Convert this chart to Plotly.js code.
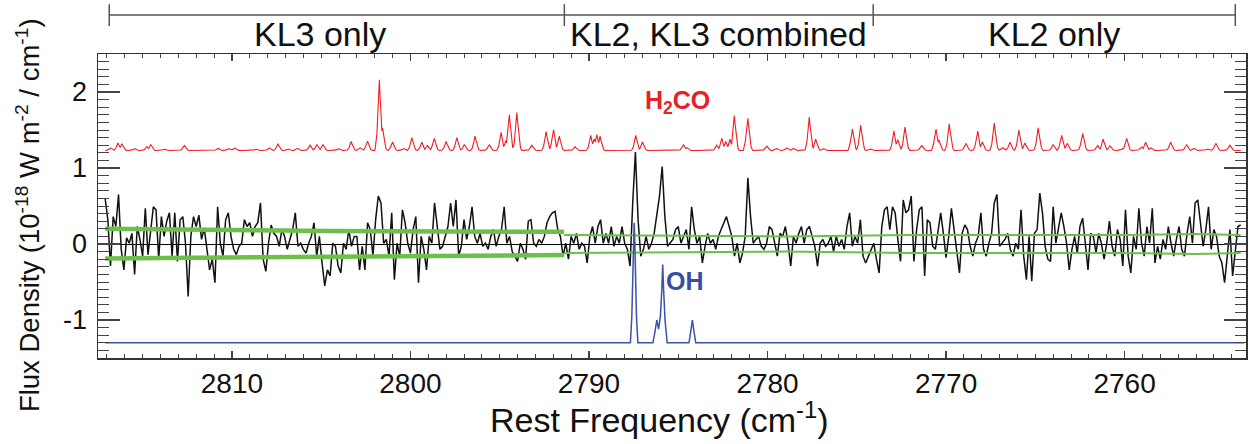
<!DOCTYPE html>
<html>
<head>
<meta charset="utf-8">
<script src="https://cdn.plot.ly/plotly-3.0.1.min.js"></script>
<style>html,body{margin:0;padding:0;background:#fff;}#chart{width:1249px;height:444px;}</style>
</head>
<body>
<div id="chart"></div>
<script>
// ---- observed spectrum (black), uniform grid in rest frequency ----
const obsStart = 2817.1;
const obsStep = 0.15;
const obsFlux = [
0.6, 0.32, -0.29, 0.36, 0.23, 0.65, -0.07, -0.34, 0.08, 0.01,
0.14, -0.40, 0.23, 0.06, -0.16, 0.47, -0.14, 0.19, 0.49, 0.45,
-0.2, 0.36, 0.1, 0.3, 0.41, -0.16, 0.41, -0.23, 0.32, 0.36,
0.01, -0.69, 0.1, 0.36, 0.23, 0.38, 0.06, 0.21, -0.07, -0.34,
-0.2, -0.51, 0.49, 0.01, -0.16, 0.32, 0.41, 0.1, -0.07, -0.14,
-0.03, 0.01, 0.32, 0.23, 0.28, 0.1, 0.23, 0.28, 0.54, -0.2,
-0.36, 0.01, 0.25, 0.14, 0.1, -0.03, 0.19, 0.1, -0.07, 0.06,
0.19, 0.41, -0.03, 0.01, -0.07, -0.12, 0.01, 0.1, 0.28, -0.16,
0.1, -0.25, -0.55, -0.34, -0.42,
0.01, -0.03, -0.29, -0.38, 0.01, -0.07, 0.19, -0.03, 0.1, 0.1,
-0.34, -0.03, -0.34, 0.28, 0.19, -0.16, 0.32, 0.63, 0.54, 0.01,
0.06, -0.16, 0.41, -0.47, 0.01, -0.16, 0.45, 0.28, 0.01, -0.12,
0.19, 0.36, -0.51, 0.1, -0.07, -0.34, 0.1, 0.01, 0.54, 0.23,
-0.07, -0.03, 0.1, 0.23, 0.54, 0.23, 0.58, -0.16, -0.03, 0.32,
0.06, 0.23, 0.49, 0.1, 0.01, 0.14, -0.03, 0.01, -0.07, 0.1,
0.19, -0.03, 0.1, 0.19, 0.49, 0.01, 0.1, -0.1, -0.16, -0.23,
0.01, -0.07, -0.2, 0.3, 0.32, 0.01, -0.03, 0.06, 0.01, 0.1,
0.28, 0.36, 0.41, 0.43, 0.19,
0.1, -0.16, 0.01, -0.2, 0.1, 0.01, 0.14, -0.07, 0.01, -0.03,
-0.25, 0.1, 0.23, 0.01, 0.23, 0.32, 0.01, 0.14, 0.01, 0.23,
-0.03, 0.1, 0.01, 0.23, 0.01, -0.07, -0.29, 0.54, 1.21, 0.32,
-0.16, -0.07, 0.1, -0.07, 0.01, 0.14, 0.36, 0.63, 1.02, 0.36,
-0.03, 0.01, 0.06, 0.19, 0.23, 0.01, 0.1, 0.19, -0.07, 0.49,
0.19, 0.01, 0.1, -0.25, -0.03, 0.14, 0.01, 0.06, -0.07, 0.1,
0.19, 0.28, 0.36, 0.23, 0.1, -0.16, 0.01, -0.25, -0.12, 0.1,
0.87, 0.36, 0.01, 0.06, 0.1, -0.03, -0.07, 0.01, 0.23, 0.19,
0.01, -0.16, 0.14, 0.1, 0.23, 0.01,
-0.29, 0.1, 0.01, 0.14, 0.23, 0.01, 0.19, 0.23, 0.1, -0.03,
-0.29, 0.01, 0.06, -0.03, 0.01, 0.1, -0.1, 0.1, -0.03, 0.06,
-0.07, 0.23, 0.41, -0.03, 0.1, 0.01, 0.32, -0.16, -0.25, -0.16,
-0.07, 0.01, -0.2, -0.38, 0.23, 0.45, 0.49, 0.19, 0.49, 0.41,
0.06, -0.23, 0.58, 0.41, 0.45, 0.63, -0.23, 0.19, 0.45, 0.49,
-0.42, 0.32, 0.28, -0.03, -0.07, 0.19, 0.41, 0.14, -0.18, 0.1,
0.47, 0.19, -0.07, -0.38, 0.14, 0.25, 0.19, -0.03, -0.16, 0.01,
0.1, 0.41, -0.07, -0.16, 0.01, 0.14, 0.54, 0.65, -0.03, 0.01,
0.06, 0.14, -0.07, -0.16, 0.01,
-0.07, 0.45, -0.16, -0.47, 0.1, -0.49, 0.14, 0.19, 0.67, 0.41,
-0.03, -0.2, -0.23, 0.49, 0.01, 0.23, 0.41, 0.23, 0.01, -0.34,
-0.07, 0.1, -0.12, 0.23, 0.34, 0.01, -0.34, 0.14, 0.1, -0.12,
0.14, 0.01, -0.2, 0.01, 0.3, -0.03, -0.16, 0.19, 0.06, -0.29,
0.45, -0.16, -0.38, 0.1, -0.07, 0.47, 0.01, -0.16, 0.23, 0.01,
0.47, -0.25, -0.03, -0.2, 0.06, -0.07, 0.23, 0.01, -0.16, 0.06,
0.23, -0.07, -0.16, 0.14, 0.36, 0.01, 0.54, 0.58, 0.23, -0.03,
0.19, 0.49, -0.07, 0.19, 0.1, -0.16, -0.25, -0.51, -0.16, 0.19,
-0.42, -0.07, 0.23, 0.25
];

// ---- 1-sigma noise envelopes (green) ----
const sigKL3Freq = [2817.1, 2810, 2804.5, 2798, 2791.4];
const sigKL3Upper = [0.20, 0.18, 0.17, 0.165, 0.16];
const sigKL3Lower = [-0.19, -0.18, -0.17, -0.16, -0.145];
const sigKL2Freq = [2791.4, 2785, 2779, 2772, 2766, 2760, 2756, 2753.5];
const sigKL2Upper = [0.12, 0.11, 0.10, 0.12, 0.12, 0.12, 0.13, 0.12];
const sigKL2Lower = [-0.12, -0.11, -0.10, -0.12, -0.12, -0.12, -0.13, -0.12];

// ---- H2CO model (red, offset) : baseline and line peaks ----
const h2coBase = 1.23;
const h2coRange = [2817.1, 2753.5];
const h2coPeakFreq = [
2816.81, 2816.38, 2816.16, 2815.45, 2814.76, 2814.54, 2813.77, 2812.67, 2810.78, 2810.19,
2809.85, 2808.66, 2807.91, 2807.42, 2806.83, 2806.33, 2805.62, 2805.24, 2804.90, 2804.03,
2803.32, 2802.82, 2802.41, 2801.74, 2801.57, 2801.01, 2800.39, 2799.92, 2799.36, 2799.05,
2798.67, 2798.00, 2797.40, 2796.98, 2796.38, 2795.59, 2794.92, 2794.66, 2794.47, 2794.04,
2793.20, 2792.40, 2791.99, 2791.67, 2790.78, 2789.90, 2789.71, 2789.56, 2789.38, 2787.38,
2787.01, 2784.71, 2784.52, 2782.84, 2782.56, 2782.34, 2782.10, 2781.86, 2781.11, 2780.05,
2779.49, 2778.93, 2778.56, 2777.66, 2777.30, 2776.87, 2775.25, 2774.78, 2774.22, 2772.92,
2772.71, 2772.30, 2771.37, 2770.57, 2770.40, 2769.82, 2768.89, 2768.23, 2767.97, 2767.30,
2766.83, 2766.42, 2765.92, 2765.58, 2764.84, 2764.00, 2763.53, 2763.21, 2762.35, 2761.51,
2761.20, 2760.82, 2760.13, 2759.89, 2759.05, 2758.82, 2758.53, 2757.42, 2756.53, 2756.12,
2755.35, 2754.89, 2754.10
];
const h2coPeakFlux = [
1.27, 1.33, 1.32, 1.26, 1.28, 1.31, 1.25, 1.30, 1.26, 1.26,
1.27, 1.25, 1.27, 1.32, 1.25, 1.26, 1.30, 1.31, 1.31, 1.26,
1.35, 1.27, 1.36, 2.16, 1.54, 1.35, 1.26, 1.40, 1.34, 1.30,
1.40, 1.35, 1.40, 1.31, 1.42, 1.31, 1.47, 1.36, 1.73, 1.73,
1.30, 1.48, 1.52, 1.43, 1.28, 1.43, 1.39, 1.44, 1.42, 1.43,
1.35, 1.31, 1.27, 1.30, 1.39, 1.35, 1.38, 1.69, 1.68, 1.29,
1.26, 1.27, 1.26, 1.67, 1.38, 1.26, 1.53, 1.56, 1.25, 1.49,
1.38, 1.54, 1.30, 1.53, 1.37, 1.58, 1.33, 1.50, 1.35, 1.59,
1.27, 1.34, 1.50, 1.33, 1.53, 1.31, 1.44, 1.33, 1.47, 1.30,
1.38, 1.29, 1.26, 1.40, 1.28, 1.34, 1.27, 1.34, 1.31, 1.26,
1.25, 1.33, 1.30
];
// line profile knots (offset from line centre in cm^-1, fraction of peak height)
const profOffset = [0, 0.07, 0.15, 0.25];
const profFrac = [1, 0.6, 0.18, 0];

// ---- OH model (blue, offset) ----
const ohFreq = [2817.1, 2787.68, 2787.6, 2787.51, 2787.47, 2787.43, 2787.34, 2787.26,
  2786.42, 2786.3, 2786.2, 2786.1, 2786.0, 2785.92, 2785.87, 2785.82, 2785.74, 2785.62,
  2784.4, 2784.3, 2784.21, 2784.12, 2784.02, 2753.3];
const ohFlux = [-1.3, -1.3, -0.95, 0.0, 0.28, 0.0, -0.95, -1.3,
  -1.3, -1.15, -1.0, -1.12, -0.95, -0.6, -0.27, -0.6, -1.0, -1.3,
  -1.3, -1.15, -1.0, -1.15, -1.3, -1.3];

// ---- axis ticks and region brackets ----
const yTickVals = [-1, 0, 1, 2];
const yTickText = ['-1', '0', '1', '2'];
const regionEdges = [2816.87, 2791.38, 2774.08, 2753.8];
const regionLabels = ['KL3 only', 'KL2, KL3 combined', 'KL2 only'];
const regionLabelPos = [2805.06, 2782.73, 2763.93];

// build observed x grid
const obsFreq = obsFlux.map((_, i) => +(obsStart - i * obsStep).toFixed(3));

// render H2CO model: each read line drawn with a piecewise-linear profile, on a fine grid
function profile(d) {
  d = Math.abs(d);
  for (let j = 1; j < profOffset.length; j++) {
    if (d <= profOffset[j]) {
      const t = (d - profOffset[j - 1]) / (profOffset[j] - profOffset[j - 1]);
      return profFrac[j - 1] + t * (profFrac[j] - profFrac[j - 1]);
    }
  }
  return 0;
}
const hx = [], hy = [];
for (let f = h2coRange[0]; f >= h2coRange[1] - 1e-9; f -= 0.02) {
  let v = 0;
  for (let k = 0; k < h2coPeakFreq.length; k++) {
    const p = profile(f - h2coPeakFreq[k]);
    if (p > 0) v = Math.max(v, (h2coPeakFlux[k] - h2coBase) * p);
  }
  hx.push(+f.toFixed(3)); hy.push(h2coBase + v);
}

const green = '#6cbf4a';
const traces = [
  {x: obsFreq, y: obsFlux, mode: 'lines', line: {color: '#111', width: 1.5}, hoverinfo: 'skip'},
  {x: sigKL3Freq, y: sigKL3Upper, mode: 'lines', line: {color: green, width: 4.5}, hoverinfo: 'skip'},
  {x: sigKL3Freq, y: sigKL3Lower, mode: 'lines', line: {color: green, width: 4.5}, hoverinfo: 'skip'},
  {x: sigKL2Freq, y: sigKL2Upper, mode: 'lines', line: {color: green, width: 2}, hoverinfo: 'skip'},
  {x: sigKL2Freq, y: sigKL2Lower, mode: 'lines', line: {color: green, width: 2}, hoverinfo: 'skip'},
  {x: hx, y: hy, mode: 'lines', line: {color: '#f01c24', width: 1.1}, hoverinfo: 'skip'},
  {x: ohFreq, y: ohFlux, mode: 'lines', line: {color: '#3a52a8', width: 1.5}, hoverinfo: 'skip'}
];

const bracketColor = '#555';
const shapes = [{type: 'line', xref: 'x', yref: 'paper', x0: regionEdges[0], x1: regionEdges[regionEdges.length - 1],
  y0: 1.128, y1: 1.128, line: {color: bracketColor, width: 1.5}}];
regionEdges.forEach(e => shapes.push({type: 'line', xref: 'x', yref: 'paper', x0: e, x1: e, y0: 1.092, y1: 1.164,
  line: {color: bracketColor, width: 1.5}}));

const font = 'Liberation Sans, Arial, Helvetica, sans-serif';
const annotations = regionLabels.map((t, i) => ({
  text: t, x: regionLabelPos[i], xref: 'x', y: 1.065, yref: 'paper', showarrow: false,
  xanchor: 'center', yanchor: 'middle', font: {family: font, size: 34, color: '#111'}
}));
annotations.push({text: '<b>H<sub>2</sub>CO</b>', x: 2785.07, y: 1.87, xref: 'x', yref: 'y', showarrow: false,
  font: {family: font, size: 25, color: '#e8202a'}});
annotations.push({text: '<b>OH</b>', x: 2784.62, y: -0.49, xref: 'x', yref: 'y', showarrow: false,
  font: {family: font, size: 25, color: '#3a4ea0'}});
annotations.push({text: 'Rest Frequency (cm<sup>-1</sup>)', x: 0.4895, y: -0.195, xref: 'paper', yref: 'paper',
  showarrow: false, xanchor: 'center', yanchor: 'middle', font: {family: font, size: 34, color: '#111'}});
annotations.push({text: 'Flux Density (10<sup>-18</sup> W m<sup>-2</sup> / cm<sup>-1</sup>)', x: -0.061, y: 0.47,
  xref: 'paper', yref: 'paper', textangle: -90, showarrow: false, xanchor: 'center', yanchor: 'middle',
  font: {family: font, size: 27.5, color: '#111'}});

const layout = {
  width: 1249, height: 444,
  margin: {l: 98, r: 3, t: 54, b: 86},
  paper_bgcolor: '#fff', plot_bgcolor: '#fff',
  showlegend: false,
  xaxis: {
    range: [2817.5, 2753.2], tickmode: 'linear', tick0: 2810, dtick: 10,
    ticks: 'inside', ticklen: 7, tickwidth: 1.5, tickcolor: '#444',
    showline: true, linecolor: '#333', linewidth: 1.5, mirror: 'allticks',
    showgrid: false, zeroline: false,
    tickfont: {family: 'Liberation Sans Narrow, Liberation Sans, Arial', size: 28, color: '#111'},
    ticklabelstandoff: 0,
    minor: {tickmode: 'linear', tick0: 2810, dtick: 1, ticks: 'inside', ticklen: 4, tickwidth: 1, tickcolor: '#444'}
  },
  yaxis: {
    range: [-1.5, 2.5], tickmode: 'array', tickvals: yTickVals, ticktext: yTickText,
    ticks: 'inside', ticklen: 22, tickwidth: 1.5, tickcolor: '#444',
    showline: true, linecolor: '#333', linewidth: 1.5, mirror: 'allticks',
    showgrid: false, zeroline: true, zerolinecolor: '#000', zerolinewidth: 1,
    tickfont: {family: font, size: 27, color: '#111'},
    ticklabelstandoff: 4,
    minor: {tickmode: 'linear', tick0: 0, dtick: 0.1, ticks: 'inside', ticklen: 11, tickwidth: 1, tickcolor: '#444'}
  },
  shapes: shapes,
  annotations: annotations
};

Plotly.newPlot('chart', traces, layout, {staticPlot: true, displayModeBar: false});
</script>
</body>
</html>
